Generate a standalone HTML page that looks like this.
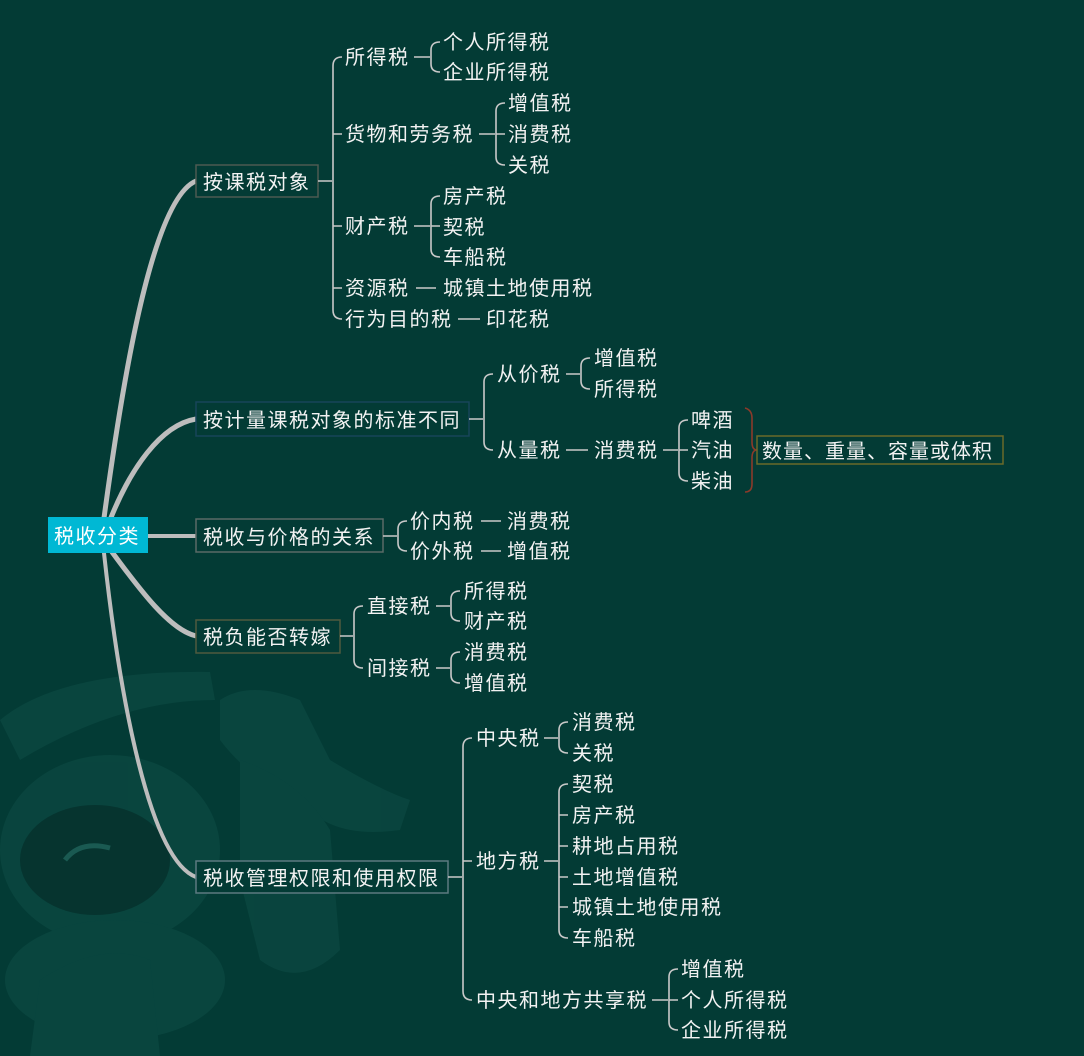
<!DOCTYPE html>
<html><head><meta charset="utf-8"><style>
html,body{margin:0;padding:0;background:#033b35;}
svg{display:block}
text{font-family:"Liberation Sans","Noto Sans CJK SC",sans-serif;font-size:20px;letter-spacing:1.5px;fill:#f2f2f2;}
.c{fill:none;stroke:#c9c9c9;stroke-width:1.6;}
</style></head><body>
<svg width="1084" height="1056" viewBox="0 0 1084 1056" xmlns="http://www.w3.org/2000/svg">
<rect width="1084" height="1056" fill="#033b35"/>
<g fill="#0b4740" opacity="0.85">
<path d="M0,720 Q60,670 210,672 L215,700 Q120,700 20,760 Z"/>
<ellipse cx="110" cy="850" rx="110" ry="95"/>
<path d="M220,700 Q250,680 300,700 L330,760 Q380,790 410,800 L400,830 Q330,840 300,800 Q250,780 220,740 Z"/>
<path d="M240,760 Q300,780 330,830 L340,950 Q300,990 260,960 L240,880 Z"/>
<ellipse cx="115" cy="980" rx="110" ry="60"/>
<path d="M40,980 Q100,940 150,960 L160,1056 L30,1056 Z"/>
</g>
<ellipse cx="95" cy="860" rx="75" ry="55" fill="#06342f"/>
<path d="M65,860 Q80,840 110,848" stroke="#1a5a52" stroke-width="5" fill="none"/>
<g fill="none" stroke="#bdbdbd" stroke-linecap="round">
<path d="M104,518 C120,400 150,200 196,181" stroke-width="5"/>
<path d="M110,520 C130,470 160,425 196,419" stroke-width="5"/>
<path d="M148,536 L196,536" stroke-width="4"/>
<path d="M112,552 C140,590 170,630 196,636" stroke-width="5"/>
<path d="M104,553 C120,700 150,860 196,877" stroke-width="4"/>
</g>
<rect x="48" y="517" width="100" height="36" fill="#00b8d4"/>
<text x="54" y="543" style="fill:#fff">税收分类</text>
<g fill="#033b35" stroke-width="1.5">
<rect x="196" y="165" width="122" height="32" stroke="#4d5a52"/>
<rect x="196" y="402" width="273" height="34" stroke="#17455a"/>
<rect x="196" y="519" width="187" height="33" stroke="#5b6b66"/>
<rect x="196" y="620" width="144" height="33" stroke="#4f5a3e"/>
<rect x="196" y="861" width="252" height="32" stroke="#5c7a80"/>
</g>
<text x="203" y="189">按课税对象</text>
<text x="203" y="427">按计量课税对象的标准不同</text>
<text x="203" y="544">税收与价格的关系</text>
<text x="203" y="644">税负能否转嫁</text>
<text x="203" y="885">税收管理权限和使用权限</text>
<g class="c">
<path d="M318,181 H332 M342,57 Q333,57 333,66 V310 Q333,319 342,319 M333,134 H342 M333,226 H342 M333,288 H342"/>
<path d="M414,57 H430 M440,42 Q431,42 431,50 V64 Q431,72 440,72"/>
<path d="M479,134 H495 M505,103 Q496,103 496,111 V157 Q496,165 505,165 M496,134 H505"/>
<path d="M414,226 H430 M440,196 Q431,196 431,204 V249 Q431,257 440,257 M431,226 H440"/>
<path d="M416,288 H436 M458,319 H480"/>
<path d="M469,419 H483 M493,374 Q484,374 484,382 V442 Q484,450 493,450"/>
<path d="M566,374 H580 M590,358 Q581,358 581,366 V381 Q581,389 590,389"/>
<path d="M566,450 H588"/>
<path d="M663,450 H678 M688,420 Q679,420 679,428 V473 Q679,481 688,481 M679,450 H688"/>
<path d="M383,536 H397 M407,521 Q398,521 398,529 V543 Q398,551 407,551"/>
<path d="M481,521 H501 M481,551 H501"/>
<path d="M340,636 H353 M363,606 Q354,606 354,614 V660 Q354,668 363,668"/>
<path d="M436,606 H450 M460,591 Q451,591 451,599 V613 Q451,621 460,621"/>
<path d="M436,668 H450 M460,652 Q451,652 451,660 V675 Q451,683 460,683"/>
<path d="M448,877 H462 M472,738 Q463,738 463,747 V991 Q463,1000 472,1000 M463,861 H472"/>
<path d="M544,738 H558 M568,722 Q559,722 559,730 V745 Q559,753 568,753"/>
<path d="M544,861 H558 M568,784 Q559,784 559,792 V930 Q559,938 568,938 M559,815 H568 M559,846 H568 M559,877 H568 M559,907 H568"/>
<path d="M652,1000 H668 M678,969 Q669,969 669,977 V1022 Q669,1030 678,1030 M669,1000 H678"/>
</g>
<path d="M745,408 Q752,410 752,418 V442 Q752,450 757,450 Q752,450 752,458 V484 Q752,492 745,492" fill="none" stroke="#8a3a2a" stroke-width="1.6"/>
<rect x="757" y="436" width="246" height="28" fill="none" stroke="#6b6a2a" stroke-width="1.5"/>
<text x="762" y="458" style="letter-spacing:1px">数量、重量、容量或体积</text>
<g>
<text x="345" y="64">所得税</text>
<text x="443" y="49">个人所得税</text>
<text x="443" y="79">企业所得税</text>
<text x="345" y="141">货物和劳务税</text>
<text x="508" y="110">增值税</text>
<text x="508" y="141">消费税</text>
<text x="508" y="172">关税</text>
<text x="345" y="233">财产税</text>
<text x="443" y="203">房产税</text>
<text x="443" y="234">契税</text>
<text x="443" y="264">车船税</text>
<text x="345" y="295">资源税</text>
<text x="443" y="295">城镇土地使用税</text>
<text x="345" y="326">行为目的税</text>
<text x="486" y="326">印花税</text>

<text x="497" y="381">从价税</text>
<text x="594" y="365">增值税</text>
<text x="594" y="396">所得税</text>
<text x="497" y="457">从量税</text>
<text x="594" y="457">消费税</text>
<text x="691" y="427">啤酒</text>
<text x="691" y="457">汽油</text>
<text x="691" y="488">柴油</text>

<text x="410" y="528">价内税</text>
<text x="507" y="528">消费税</text>
<text x="410" y="558">价外税</text>
<text x="507" y="558">增值税</text>

<text x="367" y="613">直接税</text>
<text x="464" y="598">所得税</text>
<text x="464" y="628">财产税</text>
<text x="367" y="675">间接税</text>
<text x="464" y="659">消费税</text>
<text x="464" y="690">增值税</text>

<text x="476" y="745">中央税</text>
<text x="572" y="729">消费税</text>
<text x="572" y="760">关税</text>
<text x="476" y="868">地方税</text>
<text x="572" y="791">契税</text>
<text x="572" y="822">房产税</text>
<text x="572" y="853">耕地占用税</text>
<text x="572" y="884">土地增值税</text>
<text x="572" y="914">城镇土地使用税</text>
<text x="572" y="945">车船税</text>
<text x="476" y="1007">中央和地方共享税</text>
<text x="681" y="976">增值税</text>
<text x="681" y="1007">个人所得税</text>
<text x="681" y="1037">企业所得税</text>
</g>
</svg>
</body></html>
